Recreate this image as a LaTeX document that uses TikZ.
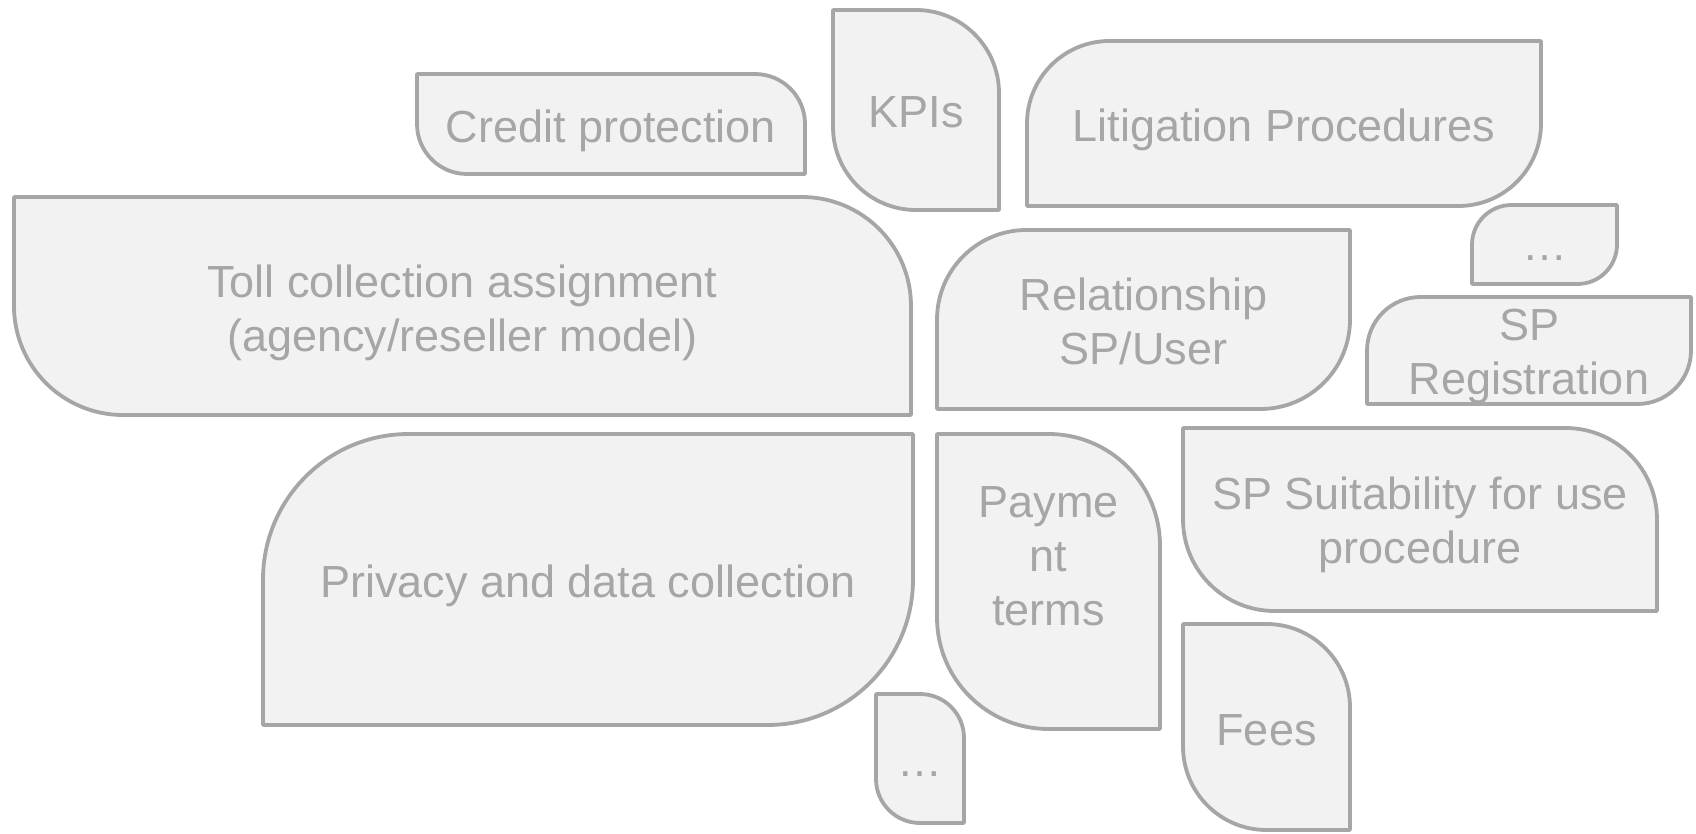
\documentclass[tikz,border=0pt]{standalone}
\usepackage{fontspec}
\setmainfont{Liberation Sans}
\definecolor{edgegray}{HTML}{A6A6A6}
\definecolor{fillgray}{HTML}{F2F2F2}
\definecolor{textgray}{HTML}{A6A6A6}
\tikzset{
  shp/.style={draw=edgegray, fill=fillgray, line width=3.8pt, line join=round},
  lbl/.style={text=textgray, align=center, inner sep=0pt, font=\fontsize{45}{54}\selectfont}
}
% type A: rounded top-right and bottom-left; args: name, x1, y1, x2, y2 (image px, y down), text shift down, text
\newcommand\rdboxA[7]{%
  \pgfmathsetmacro\Lx{#2}\pgfmathsetmacro\Rx{#4}%
  \pgfmathsetmacro\Ty{833-#3}\pgfmathsetmacro\By{833-#5}%
  \pgfmathsetmacro\rr{min(#4-#2,#5-#3)/2}%
  \draw[shp] (\Lx,\Ty) -- ({\Rx-\rr},\Ty) arc[start angle=90,end angle=0,radius=\rr pt]
    -- (\Rx,\By) -- ({\Lx+\rr},\By) arc[start angle=270,end angle=180,radius=\rr pt] -- cycle;
  \node[lbl] (#1) at ({(\Lx+\Rx)/2},{(\Ty+\By)/2-#6}) {#7};
}
% type B: rounded top-left and bottom-right
\newcommand\rdboxB[7]{%
  \pgfmathsetmacro\Lx{#2}\pgfmathsetmacro\Rx{#4}%
  \pgfmathsetmacro\Ty{833-#3}\pgfmathsetmacro\By{833-#5}%
  \pgfmathsetmacro\rr{min(#4-#2,#5-#3)/2}%
  \draw[shp] ({\Lx+\rr},\Ty) -- (\Rx,\Ty) -- (\Rx,{\By+\rr}) arc[start angle=0,end angle=-90,radius=\rr pt]
    -- (\Lx,\By) -- (\Lx,{\Ty-\rr}) arc[start angle=180,end angle=90,radius=\rr pt] -- cycle;
  \node[lbl] (#1) at ({(\Lx+\Rx)/2},{(\Ty+\By)/2-#6}) {#7};
}
\begin{document}
\begin{tikzpicture}[x=1pt,y=1pt]
\useasboundingbox (0,0) rectangle (1696,833);
\rdboxA{credit}{417}{74}{805}{174}{6.5}{Credit protection}
\rdboxA{kpis}{833}{10}{999}{210}{2}{KPIs}
\rdboxB{litig}{1027}{41}{1541}{206}{6}{Litigation Procedures}
\rdboxA{toll}{14}{197}{911}{415}{6.5}{Toll collection assignment\\(agency/reseller model)}
\rdboxB{relat}{937}{230}{1350}{409}{2}{Relationship\\SP/User}
\rdboxB{dotsa}{1472}{205}{1617}{284}{14}{\ldots}
\rdboxB{spreg}{1367}{297}{1691}{404}{5.5}{SP\\Registration}
\rdboxB{priv}{263}{434}{913}{725}{6.5}{Privacy and data collection}
\rdboxA{paym}{937}{434}{1160}{729}{-25}{Payme\\nt\\terms}
\rdboxA{suit}{1183}{428}{1657}{611}{5.5}{SP Suitability for use\\procedure}
\rdboxA{fees}{1183}{624}{1350}{830}{3}{Fees}
\rdboxA{dotsb}{876}{694}{964}{823}{16}{\ldots}
\end{tikzpicture}
\end{document}
